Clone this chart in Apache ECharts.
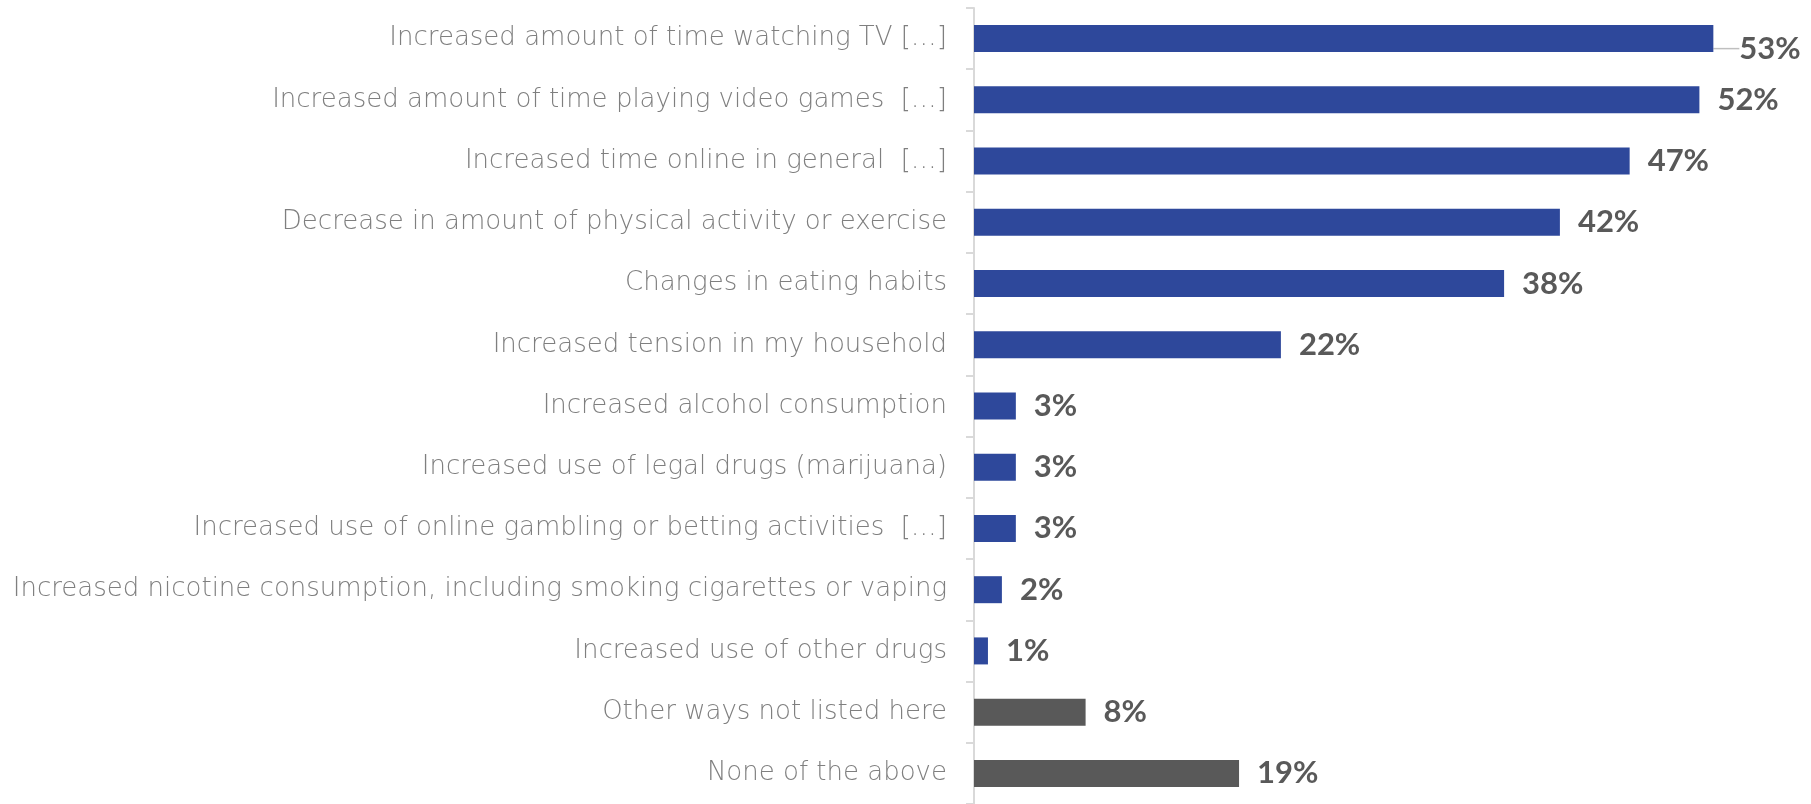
<!DOCTYPE html>
<html>
<head>
<meta charset="utf-8">
<script src="https://cdn.jsdelivr.net/npm/echarts@6/dist/echarts.min.js"></script>
<style>
  html, body { margin: 0; padding: 0; background: #ffffff; }
  #chart { width: 1811px; height: 804px; }
</style>
</head>
<body>
<div id="chart"></div>
<script>
// Survey answers, top to bottom
const categories = [
  'Increased amount of time watching TV […]',
  'Increased amount of time playing video games  […]',
  'Increased time online in general  […]',
  'Decrease in amount of physical activity or exercise',
  'Changes in eating habits',
  'Increased tension in my household',
  'Increased alcohol consumption',
  'Increased use of legal drugs (marijuana)',
  'Increased use of online gambling or betting activities  […]',
  'Increased nicotine consumption, including smoking cigarettes or vaping',
  'Increased use of other drugs',
  'Other ways not listed here',
  'None of the above'
];
// Share of respondents, in percent
const values = [53, 52, 47, 42, 38, 22, 3, 3, 3, 2, 1, 8, 19];
// Answers that are not a specific change are drawn in gray
const neutralAnswers = ['Other ways not listed here', 'None of the above'];

const BLUE = '#2E489B';
const GRAY = '#595959';

const chart = echarts.init(document.getElementById('chart'));

const seriesData = values.map((v, i) => {
  const item = {
    value: v,
    itemStyle: { color: neutralAnswers.includes(categories[i]) ? GRAY : BLUE }
  };
  if (i === 0) {
    // the longest bar's label sits a little lower, joined by a guide line
    item.label = { distance: 26 };
    item.labelLine = { show: true };
  }
  return item;
});

chart.setOption({
  animation: false,
  backgroundColor: '#ffffff',
  grid: { left: 974, right: 0, top: 8, height: 802, containLabel: false },
  xAxis: {
    type: 'value',
    min: 0,
    max: 60,
    show: false
  },
  yAxis: {
    type: 'category',
    data: categories,
    inverse: true,
    axisLine: { show: true, lineStyle: { color: '#D9D9D9', width: 2 } },
    axisTick: { show: true, length: 8, lineStyle: { color: '#D9D9D9', width: 2 } },
    axisLabel: {
      margin: 27,
      color: '#7F7F7F',
      fontFamily: 'DejaVu Sans',
      fontWeight: 200,
      fontSize: 26
    },
    splitLine: { show: false }
  },
  series: [{
    type: 'bar',
    data: seriesData,
    barWidth: 27,
    label: {
      show: true,
      position: 'right',
      distance: 18,
      formatter: '{c}%',
      color: GRAY,
      fontFamily: 'Lato',
      fontWeight: 'bold',
      fontSize: 31
    },
    labelLine: {
      show: false,
      lineStyle: { color: '#BFBFBF', width: 1.5 }
    },
    labelLayout: function (params) {
      if (params.dataIndex === 0) {
        return { dy: 10 };
      }
      return {};
    }
  }]
});
</script>
</body>
</html>
